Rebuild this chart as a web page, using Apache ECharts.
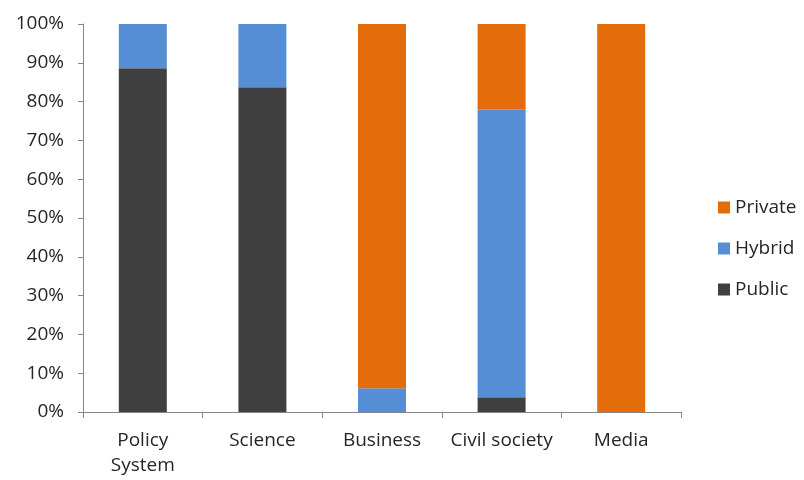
<!DOCTYPE html>
<html>
<head>
<meta charset="utf-8">
<script src="https://cdn.jsdelivr.net/npm/echarts@6/dist/echarts.min.js"></script>
<style>
  html, body { margin: 0; padding: 0; background: #fff; }
  #main { width: 804px; height: 480px; }
</style>
</head>
<body>
<div id="main"></div>
<script>
// data (percent of each sector)
var sectors = ['Policy\nSystem', 'Science', 'Business', 'Civil society', 'Media'];
var publicVals = [88.6, 83.7, 0, 3.8, 0];
var hybridVals = [11.4, 16.3, 6.1, 74.1, 0];
var privateVals = [0, 0, 93.9, 22.1, 100];
var yTicks = [0, 10, 20, 30, 40, 50, 60, 70, 80, 90, 100];

var font = 'Open Sans, Liberation Sans, sans-serif';
var myChart = echarts.init(document.getElementById('main'));

function barSeries(name, vals, color) {
    return {
        name: name,
        type: 'bar',
        stack: 'all',
        barWidth: 48,
        data: vals,
        itemStyle: { color: color },
        emphasis: { disabled: true }
    };
}

var option = {
    animation: false,
    textStyle: { fontFamily: font },
    grid: { left: 83, right: 123, top: 24, bottom: 68 },
    legend: {
        orient: 'vertical',
        left: 713,
        top: 192,
        itemWidth: 12,
        itemHeight: 12,
        itemGap: 20,
        icon: 'rect',
        data: ['Private', 'Hybrid', 'Public'],
        textStyle: { fontSize: 19, color: '#262626', lineHeight: 21, fontFamily: font }
    },
    xAxis: {
        type: 'category',
        data: sectors,
        axisLine: { lineStyle: { color: '#868686', width: 1 } },
        axisTick: { show: true, length: 6, lineStyle: { color: '#868686' } },
        axisLabel: { interval: 0, fontSize: 19, color: '#262626', margin: 16, lineHeight: 25, fontFamily: font }
    },
    yAxis: {
        type: 'value',
        min: 0,
        max: 100,
        interval: 10,
        splitLine: { show: false },
        axisLine: { show: true, lineStyle: { color: '#868686', width: 1 } },
        axisTick: { show: true, length: 5, lineStyle: { color: '#868686' } },
        axisLabel: {
            fontSize: 19,
            color: '#262626',
            margin: 19,
            fontFamily: font,
            formatter: function (v) { return yTicks.indexOf(v) >= 0 ? v + '%' : ''; }
        }
    },
    series: [
        barSeries('Public', publicVals, '#404040'),
        barSeries('Hybrid', hybridVals, '#558ED5'),
        barSeries('Private', privateVals, '#E46C0A')
    ]
};

myChart.setOption(option);
</script>
</body>
</html>
